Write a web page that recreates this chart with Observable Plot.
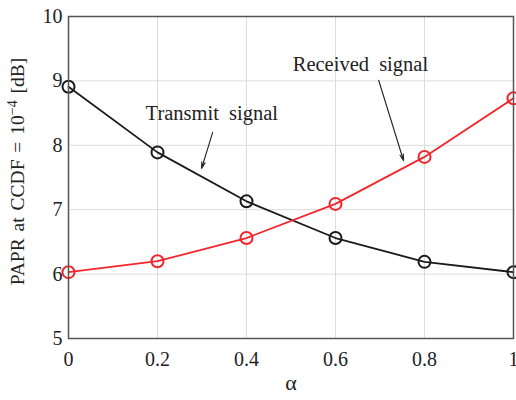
<!DOCTYPE html>
<html><head><meta charset="utf-8">
<script src="https://cdn.jsdelivr.net/npm/d3@7"></script>
<script src="https://cdn.jsdelivr.net/npm/@observablehq/plot@0.6"></script>
<style>body{margin:0;background:#fff;} svg{font-family:"Liberation Serif","Times New Roman",serif;}
.anno text{word-spacing:5px;} .ylab text{word-spacing:2px;}</style>
</head><body><div id="chart"></div>
<script>
const alpha = [0, 0.2, 0.4, 0.6, 0.8, 1];
const transmit = [8.91, 7.89, 7.13, 6.56, 6.19, 6.03];
const received = [6.03, 6.20, 6.56, 7.09, 7.82, 8.73];
const xTicks = [0, 0.2, 0.4, 0.6, 0.8, 1];
const yTicks = [5, 6, 7, 8, 9, 10];
const labels = [
  {text: "Transmit signal", x: 0.322, y: 8.49, x1: 0.324, y1: 8.20, x2: 0.299, y2: 7.64},
  {text: "Received signal", x: 0.656, y: 9.26, x1: 0.697, y1: 9.01, x2: 0.753, y2: 7.76}
];
const yLabel = ["PAPR at CCDF = 10", "−4", " [dB]"];
const rows = [];
alpha.forEach((a, i) => {
  rows.push({a, v: transmit[i], s: "Transmit"});
  rows.push({a, v: received[i], s: "Received"});
});
const colors = {Transmit: "#1a1a1a", Received: "#f2262b"};
const font = "Liberation Serif, Times New Roman, serif";

const chart = Plot.plot({
  width: 516, height: 400,
  marginLeft: 68, marginRight: 3, marginTop: 16, marginBottom: 62,
  style: {fontFamily: font, color: "#222"},
  x: {domain: [0, 1], label: null},
  y: {domain: [5, 10], label: null},
  marks: [
    Plot.gridX(xTicks, {stroke: "#dcdcdc", strokeOpacity: 1, strokeWidth: 1}),
    Plot.gridY(yTicks, {stroke: "#dcdcdc", strokeOpacity: 1, strokeWidth: 1}),
    Plot.axisX(xTicks, {tickSize: 0, tickPadding: 13, fontSize: 20, tickFormat: d => String(d), label: null, fill: "#222"}),
    Plot.axisY(yTicks, {tickSize: 0, tickPadding: 6, fontSize: 20, tickFormat: d => String(d), label: null, fill: "#222"}),
    Plot.line(rows, {x: "a", y: "v", z: "s", stroke: d => colors[d.s], strokeWidth: 1.8}),
    Plot.dot(rows, {x: "a", y: "v", stroke: d => colors[d.s], r: 6, strokeWidth: 2, fill: "none"}),
    Plot.arrow(labels, {x1: "x1", y1: "y1", x2: "x2", y2: "y2", stroke: "#222", strokeWidth: 1.1, headLength: 9, headAngle: 30}),
    Plot.text(labels, {x: "x", y: "y", text: "text", fontSize: 20.5, fill: "#222", fontFamily: font, className: "anno"}),
    Plot.frame({stroke: "#555", strokeWidth: 1.5}),
    Plot.text([yLabel.join("")], {frameAnchor: "left", textAnchor: "middle", rotate: -90, dx: -51, dy: -6, fontSize: 19.5, fill: "#222", fontFamily: font, className: "ylab"}),
    Plot.text(["α"], {frameAnchor: "bottom", dy: 51, fontSize: 22, fill: "#222", fontFamily: font})
  ]
});
const yl = d3.select(chart).select(".ylab text");
yl.text(null);
yl.append("tspan").text(yLabel[0]);
yl.append("tspan").attr("dy", "-7").attr("font-size", "14").text(yLabel[1]);
yl.append("tspan").attr("dy", "7").text(yLabel[2]);
document.getElementById("chart").appendChild(chart);
</script></body></html>
